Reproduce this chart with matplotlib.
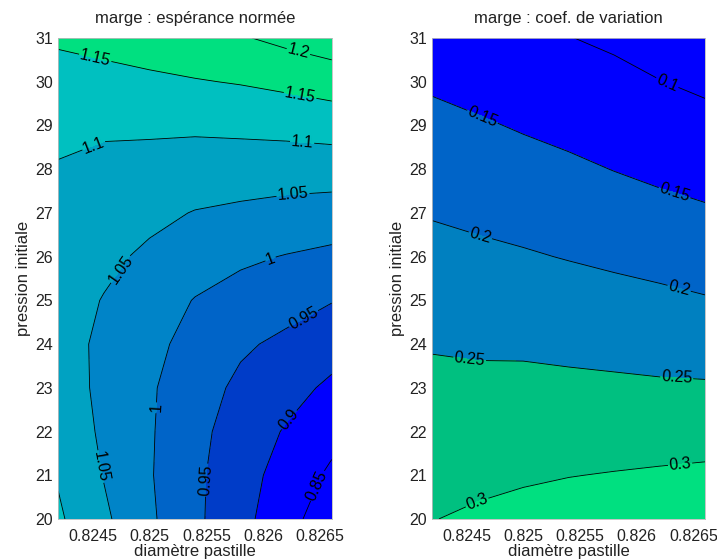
import numpy as np
import matplotlib
matplotlib.use("Agg")
import matplotlib.pyplot as plt

plt.rcParams['font.family'] = ['Liberation Sans', 'DejaVu Sans']

# ---- data ----
diametre = [0.8242, 0.8246, 0.8250, 0.8254, 0.8258, 0.8262, 0.8266]
pression = [20, 21, 22, 23, 24, 25, 26, 27, 28, 29, 30, 31]

esperance = [
    [1.107, 1.059, 1.008, 0.960, 0.914, 0.870, 0.816],
    [1.096, 1.048, 1.004, 0.960, 0.919, 0.881, 0.841],
    [1.083, 1.042, 1.005, 0.964, 0.927, 0.896, 0.866],
    [1.072, 1.040, 1.006, 0.971, 0.940, 0.917, 0.891],
    [1.068, 1.041, 1.012, 0.985, 0.957, 0.940, 0.920],
    [1.070, 1.048, 1.023, 0.998, 0.982, 0.968, 0.952],
    [1.076, 1.060, 1.042, 1.023, 1.008, 0.998, 0.989],
    [1.085, 1.072, 1.061, 1.048, 1.041, 1.034, 1.029],
    [1.096, 1.088, 1.083, 1.077, 1.075, 1.073, 1.073],
    [1.114, 1.107, 1.108, 1.108, 1.111, 1.115, 1.121],
    [1.133, 1.138, 1.141, 1.147, 1.153, 1.162, 1.173],
    [1.156, 1.162, 1.174, 1.185, 1.196, 1.212, 1.227],
]

coef_var = [
    [0.299, 0.306, 0.313, 0.319, 0.324, 0.330, 0.335],
    [0.286, 0.291, 0.295, 0.299, 0.302, 0.305, 0.308],
    [0.273, 0.276, 0.278, 0.279, 0.280, 0.281, 0.282],
    [0.260, 0.260, 0.261, 0.260, 0.258, 0.256, 0.255],
    [0.247, 0.244, 0.243, 0.239, 0.236, 0.232, 0.229],
    [0.230, 0.226, 0.223, 0.219, 0.214, 0.209, 0.203],
    [0.214, 0.209, 0.204, 0.198, 0.192, 0.186, 0.179],
    [0.197, 0.191, 0.185, 0.178, 0.170, 0.162, 0.155],
    [0.180, 0.173, 0.166, 0.158, 0.149, 0.141, 0.134],
    [0.162, 0.155, 0.146, 0.138, 0.130, 0.121, 0.113],
    [0.144, 0.135, 0.126, 0.120, 0.111, 0.101, 0.092],
    [0.127, 0.115, 0.105, 0.101, 0.093, 0.081, 0.071],
]

levels_esp = [0.80, 0.85, 0.90, 0.95, 1.00, 1.05, 1.10, 1.15, 1.20, 1.25]
levels_cv = [0.05, 0.10, 0.15, 0.20, 0.25, 0.30, 0.35]

xticks = [0.8245, 0.825, 0.8255, 0.826, 0.8265]
xticklabels = ["0.8245", "0.825", "0.8255", "0.826", "0.8265"]
yticks = list(range(20, 32))

# ---- styles ----
colors_esp = ['#0000FF', '#0000FF', '#003CC8', '#0064C8', '#0084C8',
              '#00A2C2', '#00C0C0', '#00E080', '#00E080']
colors_cv = ['#0000FF', '#0000FF', '#0064C8', '#0080C0', '#00C080', '#00E080']

labels_esp_pos = [(0.82452, 30.5), (0.82630, 30.61), (0.82632, 29.65),
                  (0.82452, 28.48), (0.82634, 28.6), (0.82626, 27.41),
                  (0.82472, 25.76), (0.82606, 25.97), (0.82635, 24.6),
                  (0.82508, 22.54), (0.82455, 21.19), (0.82551, 20.89),
                  (0.82623, 22.26), (0.82650, 20.73)]
labels_cv_pos = [(0.82626, 29.93), (0.824635, 29.16), (0.82632, 27.37),
                 (0.82462, 26.46), (0.826365, 25.2), (0.82453, 23.68),
                 (0.82635, 23.18), (0.82638, 21.27), (0.824605, 20.32)]

fig = plt.figure(figsize=(7.17, 5.59), dpi=100)
ax1 = fig.add_axes([58.3 / 717, 1 - 519 / 559, 273.4 / 717, 481 / 559])
ax2 = fig.add_axes([432.3 / 717, 1 - 519 / 559, 272.7 / 717, 481 / 559])

X, Y = np.meshgrid(diametre, pression)


def fmt(v):
    return "%g" % round(v, 3)


def draw(ax, Z, levels, colors, label_pos, title):
    Z = np.array(Z)
    ax.contourf(X, Y, Z, levels=levels, colors=colors)
    cs = ax.contour(X, Y, Z, levels=levels[1:-1], colors='black', linewidths=0.6)
    cs.clabel(manual=label_pos, inline=True, inline_spacing=1,
              fontsize=11.5, fmt=fmt, colors='black')
    ax.set_xlim(diametre[0], diametre[-1])
    ax.set_ylim(20, 31)
    ax.set_xticks(xticks)
    ax.set_xticklabels(xticklabels)
    ax.set_yticks(yticks)
    ax.tick_params(axis='x', length=0, labelsize=11.5, pad=7, colors='#222222')
    ax.tick_params(axis='y', length=0, labelsize=11.5, pad=4, colors='#222222')
    for s in ax.spines.values():
        s.set_edgecolor('#bbbbbb')
        s.set_linewidth(0.6)
    ax.set_title(title, fontsize=12, pad=11, color='#222222')
    ax.set_xlabel("diamètre pastille", fontsize=12, labelpad=0, color='#222222')
    ax.set_ylabel("pression initiale", fontsize=12, labelpad=3, color='#222222')


draw(ax1, esperance, levels_esp, colors_esp, labels_esp_pos, "marge : espérance normée")
draw(ax2, coef_var, levels_cv, colors_cv, labels_cv_pos, "marge : coef. de variation")

fig.savefig("out.png", dpi=100)
